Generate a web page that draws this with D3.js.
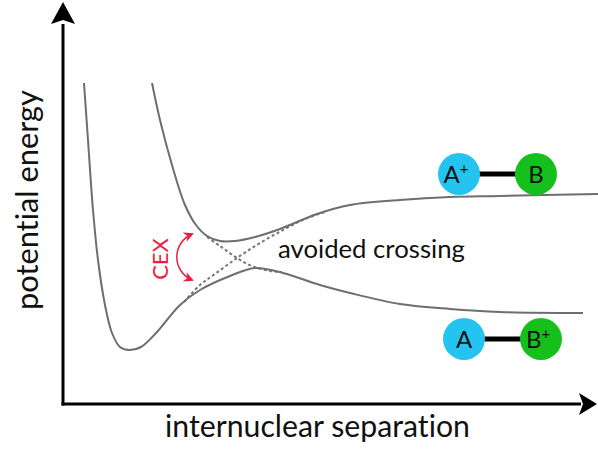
<!DOCTYPE html>
<html>
<head>
<meta charset="utf-8">
<script src="https://cdn.jsdelivr.net/npm/d3@7"></script>
<style>
body { margin: 0; background: #fff; }
svg { display: block; }
text { font-family: Lato, "Open Sans", sans-serif; font-variant-ligatures: none; }
</style>
</head>
<body>
<div id="chart"></div>
<script>
// separation (R) and energy (E) in arbitrary units
var lowerR = [21, 25, 30, 35, 42, 49, 57, 66, 78, 94, 117, 137, 167, 192, 220, 257, 287, 337, 387, 437, 520];
var lowerE = [321, 264, 194, 144, 99, 71, 57, 54, 57, 72, 99, 114, 128, 136, 131, 119, 111, 100, 95, 92, 91];
var upperR = [89, 97, 109, 122, 133, 144, 157, 172, 192, 217, 254, 287, 337, 387, 437, 535];
var upperE = [321, 284, 239, 199, 179, 168, 163, 163, 167, 175, 190, 199, 204, 207, 208, 210];
// diabatic curves through the crossing (dashed)
var diabAR = [121, 137, 152, 174, 197, 222, 242, 262];
var diabAE = [102, 119, 130, 146, 161, 175, 185, 192];
var diabBR = [144, 157, 174, 189, 207, 219];
var diabBE = [167, 158, 146, 138, 133, 132];

var xLabel = "internuclear separation";
var yLabel = "potential energy";
var crossLabel = "avoided crossing";
var cexLabel = "CEX";
// molecule labels: [left atom, left charge, right atom, right charge]
var topMolecule = ["A", "+", "B", ""];
var bottomMolecule = ["A", "", "B", "+"];

var W = 598, H = 458;
var svg = d3.select("#chart").append("svg")
    .attr("width", W)
    .attr("height", H);

var x = d3.scaleLinear().domain([0, 535]).range([63, 598]);
var y = d3.scaleLinear().domain([0, 404]).range([404, 0]);

var line = d3.line()
    .x(function (d) { return x(d[0]); })
    .y(function (d) { return y(d[1]); })
    .curve(d3.curveCatmullRom.alpha(0.5));

function pairs(r, e) { return r.map(function (v, i) { return [v, e[i]]; }); }

// 坐标轴
var ox = x(0), oy = y(0);
svg.append("line")
    .attr("x1", ox).attr("y1", oy + 1.5)
    .attr("x2", ox).attr("y2", y(380))
    .attr("stroke", "#000").attr("stroke-width", 3);
svg.append("path")
    .attr("d", "M" + ox + "," + y(402) + "L" + (ox + 12) + "," + y(380) + "L" + ox + "," + y(384) + "L" + (ox - 12) + "," + y(380) + "Z")
    .attr("fill", "#000");
svg.append("line")
    .attr("x1", ox - 1.5).attr("y1", oy)
    .attr("x2", x(518)).attr("y2", oy)
    .attr("stroke", "#000").attr("stroke-width", 3);
svg.append("path")
    .attr("d", "M" + x(534) + "," + oy + "L" + x(516) + "," + (oy - 11) + "L" + x(520) + "," + oy + "L" + x(516) + "," + (oy + 11) + "Z")
    .attr("fill", "#000");

// 曲线
svg.append("path")
    .attr("d", line(pairs(diabAR, diabAE)))
    .attr("fill", "none").attr("stroke", "#777").attr("stroke-width", 2)
    .attr("stroke-dasharray", "3,2.5");
svg.append("path")
    .attr("d", line(pairs(diabBR, diabBE)))
    .attr("fill", "none").attr("stroke", "#777").attr("stroke-width", 2)
    .attr("stroke-dasharray", "3,2.5");
svg.append("path")
    .attr("d", line(pairs(lowerR, lowerE)))
    .attr("fill", "none").attr("stroke", "#6e6e6e").attr("stroke-width", 2);
svg.append("path")
    .attr("d", line(pairs(upperR, upperE)))
    .attr("fill", "none").attr("stroke", "#6e6e6e").attr("stroke-width", 2);

// 文字, font size fitted to the width it takes in the picture
function fit(t, w) {
    var l = t.node().getComputedTextLength();
    t.attr("font-size", 20 * w / l);
    return t;
}

fit(svg.append("text")
    .attr("x", 165).attr("y", 437)
    .attr("font-size", 20).attr("fill", "#111")
    .text(xLabel), 305);

fit(svg.append("text")
    .attr("transform", "translate(38,310) rotate(-90)")
    .attr("font-size", 20).attr("fill", "#111")
    .text(yLabel), 220);

fit(svg.append("text")
    .attr("x", 278).attr("y", 258)
    .attr("font-size", 20).attr("fill", "#111")
    .text(crossLabel), 187);

var red = "#ee1c3e";
svg.append("text")
    .attr("transform", "translate(168,259) rotate(-90)")
    .attr("text-anchor", "middle")
    .attr("font-size", 22).attr("fill", red)
    .text(cexLabel);

// CEX double arrow
var defs = svg.append("defs");
defs.append("marker")
    .attr("id", "head")
    .attr("viewBox", "0 0 10 10")
    .attr("refX", 8).attr("refY", 5)
    .attr("markerWidth", 10).attr("markerHeight", 10)
    .attr("markerUnits", "userSpaceOnUse")
    .attr("orient", "auto-start-reverse")
    .append("path")
    .attr("d", "M0,0L10,5L0,10L3,5Z")
    .attr("fill", red);
svg.append("path")
    .attr("d", "M192,234A25,25 0 0 0 192,280")
    .attr("fill", "none").attr("stroke", red).attr("stroke-width", 1.5)
    .attr("marker-start", "url(#head)")
    .attr("marker-end", "url(#head)");

// 分子
function molecule(labels, r, e) {
    var g = svg.append("g").attr("transform", "translate(" + x(r) + "," + y(e) + ")");
    var gap = 77;
    g.append("line").attr("x1", 0).attr("x2", gap).attr("y1", 0).attr("y2", 0)
        .attr("stroke", "#000").attr("stroke-width", 5);
    g.append("circle").attr("cx", 0).attr("r", 21).attr("fill", "#25c3ef");
    g.append("circle").attr("cx", gap).attr("r", 21).attr("fill", "#16c01c");
    [0, 1].forEach(function (k) {
        var t = g.append("text")
            .attr("x", k * gap + (labels[2 * k + 1] ? -3 : 0))
            .attr("y", 8.5)
            .attr("text-anchor", "middle")
            .attr("font-size", 24).attr("fill", "#111")
            .text(labels[2 * k]);
        if (labels[2 * k + 1]) {
            t.append("tspan").attr("font-size", 15).attr("dy", -9).text(labels[2 * k + 1]);
        }
    });
}
molecule(topMolecule, 396, 230);
molecule(bottomMolecule, 401, 65);
</script>
</body>
</html>
